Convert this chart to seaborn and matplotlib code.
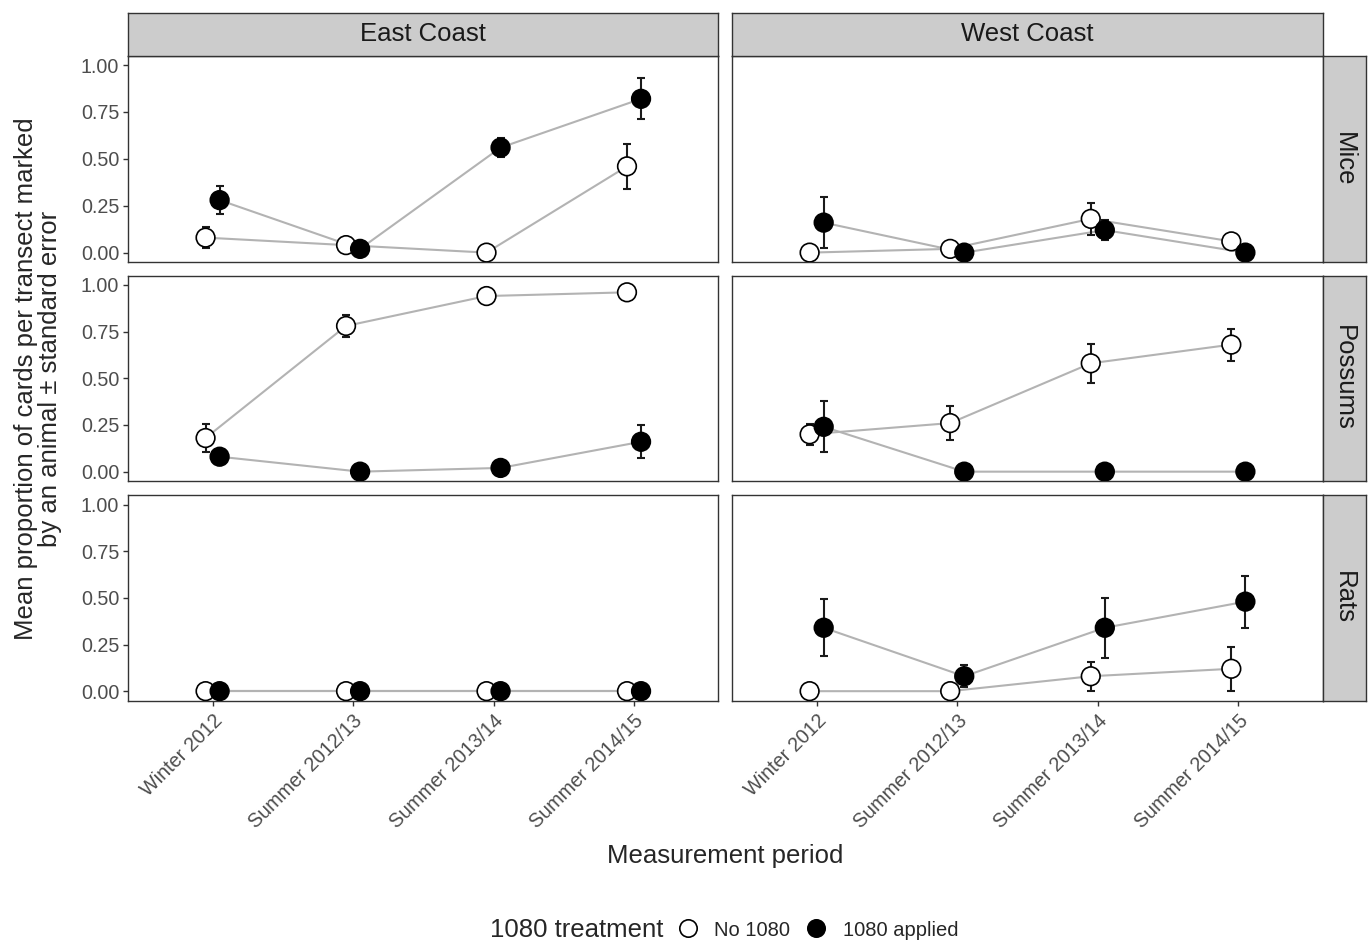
import pandas as pd
import seaborn as sns
import matplotlib.pyplot as plt
from matplotlib.lines import Line2D

sns.set_style("white")
plt.rcParams['font.family'] = ['Liberation Sans', 'DejaVu Sans']

# Datos
periodos = ["Winter 2012", "Summer 2012/13", "Summer 2013/14", "Summer 2014/15"]
costas = ["East Coast", "West Coast"]
especies = ["Mice", "Possums", "Rats"]
tratamientos = ["No 1080", "1080 applied"]

# media y error estandar por costa / especie / tratamiento
east_mice_no = [0.08, 0.04, 0.00, 0.46]
east_mice_no_se = [0.058, 0.0, 0.0, 0.12]
east_mice_si = [0.28, 0.02, 0.56, 0.82]
east_mice_si_se = [0.075, 0.0, 0.05, 0.11]

west_mice_no = [0.00, 0.02, 0.18, 0.06]
west_mice_no_se = [0.0, 0.0, 0.085, 0.0]
west_mice_si = [0.16, 0.00, 0.12, 0.00]
west_mice_si_se = [0.135, 0.0, 0.055, 0.0]

east_possums_no = [0.18, 0.78, 0.94, 0.96]
east_possums_no_se = [0.074, 0.06, 0.0, 0.0]
east_possums_si = [0.08, 0.00, 0.02, 0.16]
east_possums_si_se = [0.0, 0.0, 0.0, 0.088]

west_possums_no = [0.20, 0.26, 0.58, 0.68]
west_possums_no_se = [0.055, 0.089, 0.103, 0.086]
west_possums_si = [0.24, 0.00, 0.00, 0.00]
west_possums_si_se = [0.136, 0.0, 0.0, 0.0]

east_rats_no = [0.00, 0.00, 0.00, 0.00]
east_rats_no_se = [0.0, 0.0, 0.0, 0.0]
east_rats_si = [0.00, 0.00, 0.00, 0.00]
east_rats_si_se = [0.0, 0.0, 0.0, 0.0]

west_rats_no = [0.00, 0.00, 0.08, 0.12]
west_rats_no_se = [0.0, 0.0, 0.078, 0.118]
west_rats_si = [0.34, 0.08, 0.34, 0.48]
west_rats_si_se = [0.152, 0.059, 0.16, 0.14]

series = {
    ("East Coast", "Mice"): (east_mice_no, east_mice_no_se, east_mice_si, east_mice_si_se),
    ("West Coast", "Mice"): (west_mice_no, west_mice_no_se, west_mice_si, west_mice_si_se),
    ("East Coast", "Possums"): (east_possums_no, east_possums_no_se, east_possums_si, east_possums_si_se),
    ("West Coast", "Possums"): (west_possums_no, west_possums_no_se, west_possums_si, west_possums_si_se),
    ("East Coast", "Rats"): (east_rats_no, east_rats_no_se, east_rats_si, east_rats_si_se),
    ("West Coast", "Rats"): (west_rats_no, west_rats_no_se, west_rats_si, west_rats_si_se),
}

filas = []
for (costa, esp), (m_no, se_no, m_si, se_si) in series.items():
    for trat, medias, errores in [("No 1080", m_no, se_no), ("1080 applied", m_si, se_si)]:
        for i, p in enumerate(periodos):
            filas.append({"Coast": costa, "Species": esp, "Treatment": trat,
                          "Period": p, "idx": i, "mean": medias[i], "se": errores[i]})
df = pd.DataFrame(filas)

# esquiva horizontal (position_dodge)
dodge = {"No 1080": -0.05, "1080 applied": 0.05}
df["xpos"] = df["idx"] + df["Treatment"].map(dodge)

W, H = 1370, 942
fig = plt.figure(figsize=(W / 100, H / 100), dpi=100)


def caja(x0, y0, x1, y1):
    return [x0 / W, 1 - y1 / H, (x1 - x0) / W, (y1 - y0) / H]


col_x = [(128.3, 718.3), (732.3, 1322.7)]
row_y = [(55.7, 262.0), (275.5, 481.0), (495.3, 700.5)]
borde = "#333333"
gris_tick = "#4D4D4D"
paleta = {"No 1080": "white", "1080 applied": "black"}

for r, esp in enumerate(especies):
    for c, costa in enumerate(costas):
        ax = fig.add_axes(caja(col_x[c][0], row_y[r][0], col_x[c][1], row_y[r][1]))
        sub = df[(df["Coast"] == costa) & (df["Species"] == esp)].sort_values(["Treatment", "idx"])

        sns.lineplot(data=sub, x="xpos", y="mean", hue="Treatment", hue_order=tratamientos,
                     palette={"No 1080": "#B3B3B3", "1080 applied": "#B3B3B3"},
                     linewidth=1.5, estimator=None, legend=False, ax=ax, zorder=1)
        ax.errorbar(sub["xpos"], sub["mean"], yerr=sub["se"], fmt="none",
                    ecolor="#1A1A1A", elinewidth=1.5, capsize=2.6, capthick=1.5, zorder=2)
        orden = pd.concat([sub[sub["Treatment"] == "No 1080"], sub[sub["Treatment"] == "1080 applied"]])
        sns.scatterplot(data=orden, x="xpos", y="mean", hue="Treatment", hue_order=tratamientos,
                        palette=paleta, edgecolor="black", linewidth=1.2, s=180,
                        legend=False, ax=ax, zorder=3)

        ax.set_xlim(-0.6, 3.6)
        ax.set_ylim(-0.05, 1.05)
        ax.set_xlabel("")
        ax.set_ylabel("")
        for s in ax.spines.values():
            s.set_color(borde)
            s.set_linewidth(1.0)
            s.set_visible(True)

        ax.set_xticks(range(len(periodos)))
        ax.set_yticks([0, 0.25, 0.5, 0.75, 1.0])
        ax.tick_params(axis="both", length=3.6, width=1.0, color=borde,
                       labelcolor=gris_tick, labelsize=14.2, pad=3)
        if c == 0:
            ax.set_yticklabels(["0.00", "0.25", "0.50", "0.75", "1.00"])
            ax.tick_params(axis="y", left=True)
        else:
            ax.tick_params(axis="y", left=False, labelleft=False)
        if r == len(especies) - 1:
            ax.set_xticklabels(periodos, rotation=45, ha="right", va="top",
                               rotation_mode="anchor")
            ax.tick_params(axis="x", bottom=True, pad=4)
        else:
            ax.tick_params(axis="x", bottom=False, labelbottom=False)

# Franjas de facetas
for c, costa in enumerate(costas):
    sx = fig.add_axes(caja(col_x[c][0], 12.7, col_x[c][1], 55.7))
    sx.set_facecolor("#CCCCCC")
    sx.set_xticks([])
    sx.set_yticks([])
    for s in sx.spines.values():
        s.set_color(borde)
        s.set_linewidth(1.0)
    sx.text(0.5, 0.5, costa, ha="center", va="center", fontsize=18.5,
            color="#1A1A1A", transform=sx.transAxes)

for r, esp in enumerate(especies):
    sy = fig.add_axes(caja(1322.7, row_y[r][0], 1365.7, row_y[r][1]))
    sy.set_facecolor("#CCCCCC")
    sy.set_xticks([])
    sy.set_yticks([])
    for s in sy.spines.values():
        s.set_color(borde)
        s.set_linewidth(1.0)
    sy.text(0.5, 0.5, esp, ha="center", va="center", fontsize=18.5, rotation=-90,
            color="#1A1A1A", transform=sy.transAxes)

# Titulos de ejes
fig.text(725 / W, 1 - 856 / H, "Measurement period", ha="center", va="center", fontsize=18.5)
fig.text(38 / W, 1 - 379 / H,
         "Mean proportion of cards per transect marked\nby an animal \u00b1 standard error",
         ha="center", va="center", rotation=90, fontsize=18.5, linespacing=1.0)

# Leyenda
fig.text(490 / W, 1 - 930 / H, "1080 treatment", ha="left", va="center", fontsize=18.5)
manijas = [Line2D([], [], marker="o", linestyle="", markersize=12.5, markerfacecolor=paleta[t],
                  markeredgecolor="black", markeredgewidth=1.2) for t in tratamientos]
fig.legend(manijas, tratamientos, loc="center left", bbox_to_anchor=(678 / W, 1 - 930 / H),
           ncol=2, frameon=False, fontsize=14.5, handlelength=1.0, handletextpad=0.8,
           columnspacing=0.8, borderpad=0, borderaxespad=0)

plt.savefig("out.png", dpi=100)
plt.close()
